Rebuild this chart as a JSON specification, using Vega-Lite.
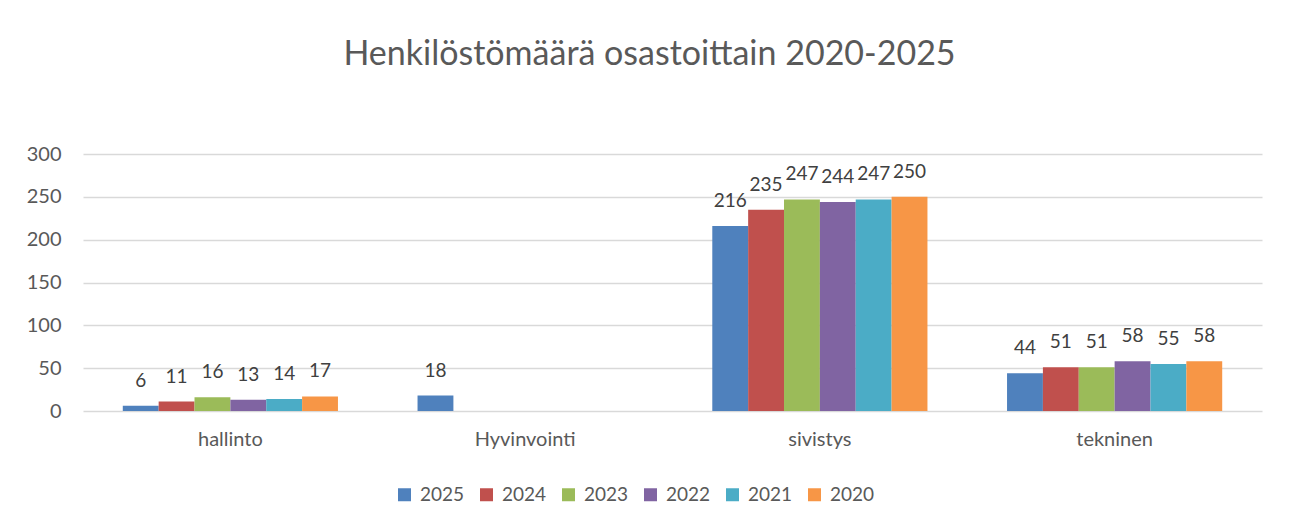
{
  "$schema": "https://vega.github.io/schema/vega-lite/v6.json",
  "autosize": {"type": "none"},
  "padding": {"left": 83, "top": 154, "right": 33, "bottom": 117},
  "width": 1179,
  "height": 257,
  "background": "white",
  "title": {
    "text": "Henkilöstömäärä osastoittain 2020-2025",
    "anchor": "middle",
    "fontSize": 34,
    "font": "Lato",
    "fontWeight": "normal",
    "color": "#595959",
    "offset": 72,
    "dx": -23
  },
  "data": {
    "values": [
      {"osasto": "hallinto", "vuosi": "2025", "maara": 6},
      {"osasto": "hallinto", "vuosi": "2024", "maara": 11},
      {"osasto": "hallinto", "vuosi": "2023", "maara": 16},
      {"osasto": "hallinto", "vuosi": "2022", "maara": 13},
      {"osasto": "hallinto", "vuosi": "2021", "maara": 14},
      {"osasto": "hallinto", "vuosi": "2020", "maara": 17},
      {"osasto": "Hyvinvointi", "vuosi": "2025", "maara": 18},
      {"osasto": "sivistys", "vuosi": "2025", "maara": 216},
      {"osasto": "sivistys", "vuosi": "2024", "maara": 235},
      {"osasto": "sivistys", "vuosi": "2023", "maara": 247},
      {"osasto": "sivistys", "vuosi": "2022", "maara": 244},
      {"osasto": "sivistys", "vuosi": "2021", "maara": 247},
      {"osasto": "sivistys", "vuosi": "2020", "maara": 250},
      {"osasto": "tekninen", "vuosi": "2025", "maara": 44},
      {"osasto": "tekninen", "vuosi": "2024", "maara": 51},
      {"osasto": "tekninen", "vuosi": "2023", "maara": 51},
      {"osasto": "tekninen", "vuosi": "2022", "maara": 58},
      {"osasto": "tekninen", "vuosi": "2021", "maara": 55},
      {"osasto": "tekninen", "vuosi": "2020", "maara": 58}
    ]
  },
  "encoding": {
    "x": {
      "field": "osasto",
      "type": "nominal",
      "sort": ["hallinto", "Hyvinvointi", "sivistys", "tekninen"],
      "scale": {"paddingInner": 0.27, "paddingOuter": 0.135},
      "axis": {
        "title": null,
        "labelAngle": 0,
        "labelFont": "Lato",
        "labelFontSize": 20,
        "labelColor": "#595959",
        "labelPadding": 18,
        "ticks": false,
        "domain": false
      }
    },
    "xOffset": {
      "field": "vuosi",
      "type": "nominal",
      "scale": {"domain": ["2025", "2024", "2023", "2022", "2021", "2020"], "paddingInner": 0, "paddingOuter": 0}
    },
    "y": {
      "field": "maara",
      "type": "quantitative",
      "scale": {"domain": [0, 300], "nice": false},
      "axis": {
        "title": null,
        "values": [0, 50, 100, 150, 200, 250, 300],
        "labelFont": "Lato",
        "labelFontSize": 20,
        "labelColor": "#595959",
        "labelPadding": 22,
        "ticks": false,
        "domain": false,
        "grid": true,
        "gridColor": "#d9d9d9",
        "gridWidth": 1.5
      }
    }
  },
  "layer": [
    {
      "mark": {"type": "bar"},
      "encoding": {
        "color": {
          "field": "vuosi",
          "type": "nominal",
          "scale": {
            "domain": ["2025", "2024", "2023", "2022", "2021", "2020"],
            "range": ["#4F81BD", "#C0504D", "#9BBB59", "#8064A2", "#4BACC6", "#F79646"]
          },
          "legend": {
            "title": null,
            "orient": "none",
            "legendX": 312,
            "legendY": 331,
            "direction": "horizontal",
            "symbolType": "square",
            "symbolSize": 169,
            "symbolStrokeWidth": 0,
            "labelFont": "Lato",
            "labelFontSize": 19,
            "labelColor": "#595959",
            "labelOffset": 6,
            "columnPadding": 12
          }
        }
      }
    },
    {
      "mark": {"type": "text", "baseline": "middle", "dy": -25, "font": "Lato", "fontSize": 19, "color": "#404040"},
      "encoding": {
        "text": {"field": "maara", "type": "quantitative"}
      }
    }
  ],
  "config": {
    "view": {"stroke": null}
  }
}
